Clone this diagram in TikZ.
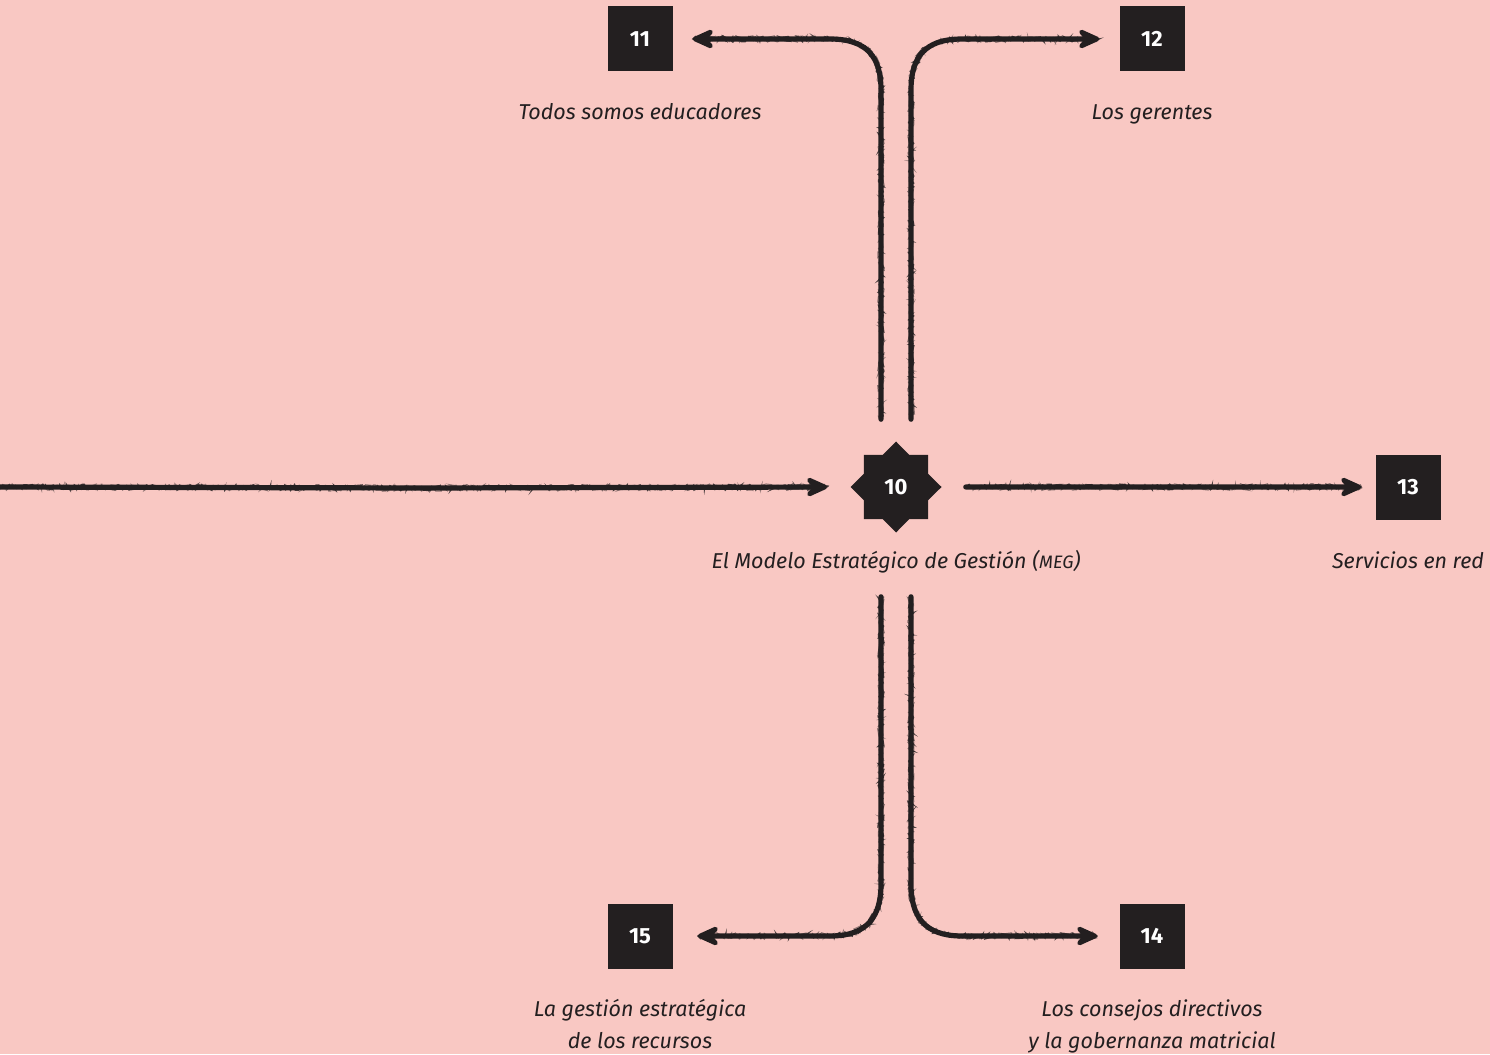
\documentclass[tikz,border=0pt]{standalone}
\usepackage{fontspec}
\setmainfont{Fira Sans}
\usetikzlibrary{arrows.meta,decorations.pathmorphing,calc,shapes.geometric}
\definecolor{bg}{HTML}{F9C8C3}
\definecolor{ink}{HTML}{231F20}

% a hand-drawn stroke: a solid core with an arrow tip, and jittered passes for the grain
\newcommand{\sketchline}[1]{%
  \draw[pencil] #1;
  \draw[grain] #1;
  \draw[grain, line width=0.9pt, opacity=0.5,
    decoration={random steps, segment length=1.5pt, amplitude=3.4pt}] #1;
}

\begin{document}
\begin{tikzpicture}[x=1pt,y=-1pt,
  numbox/.style={fill=ink, text=white, minimum size=65pt, inner sep=0pt,
    font=\fontsize{22}{26}\selectfont\bfseries},
  starbox/.style={fill=ink, text=white, shape=star, star points=8,
    star point ratio=1.31, minimum size=91pt, inner sep=0pt,
    font=\fontsize{22}{26}\selectfont\bfseries},
  caption/.style={text=ink, font=\fontsize{21.5}{32}\selectfont\itshape,
    align=center, inner sep=0pt},
  oneline/.style={caption, text height=15pt, text depth=5pt},
  pencil/.style={draw=ink, line width=5.2pt, line cap=round, line join=round,
    -{Stealth[length=29pt,width=26pt,inset=11pt,round]}},
  grain/.style={draw=ink, line width=1.3pt, line cap=round, opacity=0.8,
    decorate, decoration={random steps, segment length=2pt, amplitude=2.9pt}},
]
\pgfmathsetseed{7}
\useasboundingbox[fill=bg] (0,0) rectangle (1490,1054);

% central element
\node[starbox] (meg) at (896,487) {10};

% numbered boxes
\node[numbox] (b11) at (640,39)  {11};
\node[numbox] (b12) at (1152,39) {12};
\node[numbox] (b13) at (1408,487) {13};
\node[numbox] (b14) at (1152,936) {14};
\node[numbox] (b15) at (640,936) {15};

% captions
\node[oneline] (c11) at (640,115) {Todos somos educadores};
\node[oneline] (c12) at (1152,115) {Los gerentes};
\node[oneline] (c10) at (896,563) {El Modelo Estratégico de Gestión ({\fontsize{18}{20}\selectfont MEG})};
\node[oneline] (c13) at (1408,563) {Servicios en red};
\node[caption] (c15) at (640,1024) {La gestión estratégica\\de los recursos};
\node[caption] (c14) at (1152,1026) {Los consejos directivos\\y la gobernanza matricial};

% branch starts above and below the centre
\coordinate (tl) at ($(meg.north)+(-15,-22)$);
\coordinate (tr) at ($(meg.north)+(15,-22)$);
\coordinate (bl) at ($(meg.south)+(-15,64)$);
\coordinate (br) at ($(meg.south)+(15,64)$);
\coordinate (src) at (0,487);

% incoming line from the left edge
\sketchline{(src) -- (420,488) -- ([xshift=-23pt]meg.west)}
% outgoing to the right
\sketchline{([xshift=24pt]meg.east) -- ([xshift=-14pt]b13.west)}

% upward branches
\sketchline{(tl) -- (881,90) .. controls (881,58) and (868,39) .. (830,39) -- ([xshift=20pt]b11.east)}
\sketchline{(tr) -- (911,90) .. controls (911,58) and (924,39) .. (962,39) -- ([xshift=-20pt]b12.west)}

% downward branches
\sketchline{(bl) -- (881,884) .. controls (881,916) and (868,936) .. (830,936) -- ([xshift=25pt]b15.east)}
\sketchline{(br) -- (911,884) .. controls (911,916) and (924,936) .. (962,936) -- ([xshift=-22pt]b14.west)}
\end{tikzpicture}
\end{document}
